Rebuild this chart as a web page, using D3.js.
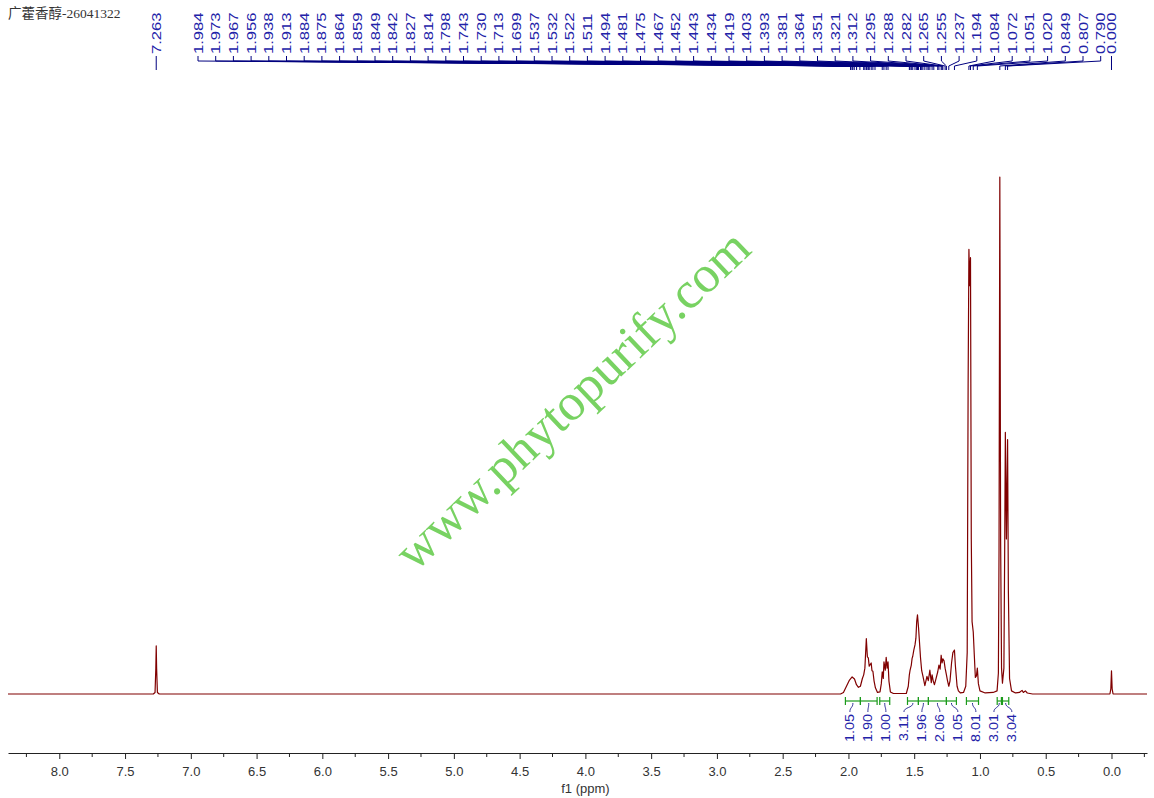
<!DOCTYPE html>
<html><head><meta charset="utf-8">
<script src="https://cdn.jsdelivr.net/npm/d3@7"></script>
<style>
html,body{margin:0;padding:0;background:#fff;}
svg{display:block;}
</style></head>
<body>
<svg id="chart" width="1154" height="798"></svg>
<script>
// ---------- DATA ----------
const title = "广藿香醇-26041322";
const watermark = "www.phytopurify.com";
const axisTitle = "f1 (ppm)";
const xDomain = [8.39, -0.27];
const majorTicks = [8.0,7.5,7.0,6.5,6.0,5.5,5.0,4.5,4.0,3.5,3.0,2.5,2.0,1.5,1.0,0.5,0.0];
const minorTicks = [8.25,7.75,7.25,6.75,6.25,5.75,5.25,4.75,4.25,3.75,3.25,2.75,2.25,1.75,1.25,0.75,0.25,-0.25];

// spectrum trace (ppm, relative intensity)
const specPpm = [8.39,7.285,7.272,7.266,7.263,7.260,7.254,7.240,2.060,2.038,2.015,1.992,1.972,1.954,1.939,1.924,1.909,1.894,1.884,1.875,1.864,1.856,1.849,1.842,1.827,1.821,1.814,1.805,1.795,1.779,1.760,1.750,1.743,1.735,1.730,1.720,1.713,1.706,1.699,1.692,1.681,1.658,1.560,1.545,1.537,1.532,1.522,1.516,1.511,1.503,1.494,1.487,1.481,1.475,1.467,1.460,1.452,1.443,1.434,1.419,1.403,1.393,1.381,1.370,1.364,1.355,1.346,1.336,1.321,1.312,1.303,1.295,1.288,1.282,1.273,1.265,1.255,1.247,1.237,1.228,1.216,1.206,1.194,1.187,1.174,1.164,1.148,1.125,1.108,1.097,1.090,1.084,1.078,1.072,1.066,1.060,1.051,1.043,1.035,1.027,1.020,1.012,1.000,0.960,0.900,0.870,0.860,0.855,0.849,0.843,0.836,0.829,0.818,0.812,0.807,0.799,0.790,0.784,0.775,0.760,0.730,0.700,0.680,0.670,0.655,0.640,0.600,0.012,0.005,0.000,-0.005,-0.012,-0.27];
const specInt = [0,0,0.3,5,9.3,5,0.3,0,0,0.3,1.5,2.7,3.3,2.9,1.8,1.3,1.5,3.0,3.7,5.0,10.7,7.2,7.0,5.4,6.0,4.5,4.4,2.5,1.2,0.3,0.4,2.0,4.3,3.0,6.2,4.6,7.1,5.0,6.2,2.5,0.4,0.1,0.1,1.5,3.7,4.5,5.6,6.9,7.3,8.5,9.5,10.8,14.0,15.3,12.8,10.1,7.0,4.5,3.5,1.6,3.4,2.6,4.6,2.2,3.7,2.5,1.8,2.8,4.3,5.6,4.8,7.5,6.0,6.8,6.4,5.0,3.7,2.6,1.5,2.5,6.0,8.0,8.5,5.5,1.5,0.6,0.2,0.3,1.5,8.0,60,86.0,79,84.4,30,14,12,7.5,3.2,3.5,5.0,2.0,0.6,0.2,0.3,0.6,4.0,28,100,30,5,2.1,5,28,50.6,30,49.2,20,3,0.6,0.2,0.3,0.7,0.3,0.6,0.2,0,0,1,4.5,1,0,0];

// peak picking labels
const peakSolo = ["7.263","0.000"];
const peakGroup = ["1.984","1.973","1.967","1.956","1.938","1.913","1.884","1.875","1.864","1.859","1.849","1.842","1.827","1.814","1.798","1.743","1.730","1.713","1.699","1.537","1.532","1.522","1.511","1.494","1.481","1.475","1.467","1.452","1.443","1.434","1.419","1.403","1.393","1.381","1.364","1.351","1.321","1.312","1.295","1.288","1.282","1.265","1.255","1.237","1.194","1.084","1.072","1.051","1.020","0.849","0.807","0.790"];

// integrals
const intFrom = [2.023,1.909,1.762,1.551,1.468,1.392,1.255,1.103,0.869,0.829];
const intTo   = [1.909,1.782,1.686,1.468,1.392,1.255,1.179,1.011,0.837,0.781];
const intVal  = ["1.05","1.90","1.00","3.11","1.96","2.06","1.05","8.01","3.01","3.04"];

// ---------- DRAW ----------
const svg = d3.select("#chart");
const x = d3.scaleLinear().domain(xDomain).range([8, 1147]);
const y = d3.scaleLinear().domain([0, 100]).range([694, 177]);

const navy = "#00007f", labelBlue = "#2222a8", green = "#1a9a1a";

// title
svg.append("text").attr("x", 8).attr("y", 18)
  .attr("font-family", "'Liberation Serif','Noto Sans CJK SC',serif")
  .attr("font-size", 13.5).attr("fill", "#333").text(title);

// watermark
svg.append("text")
  .attr("transform", "translate(584,412) rotate(-43.5)")
  .attr("text-anchor", "middle")
  .attr("font-family", "'Liberation Serif',serif")
  .attr("font-size", 52).attr("fill", "#78d262").text(watermark);

// spectrum
const pts = specPpm.map((p, i) => [p, specInt[i]]);
svg.append("path").datum(pts)
  .attr("d", d3.line().x(d => x(d[0])).y(d => y(d[1])))
  .attr("fill", "none").attr("stroke", "#800000").attr("stroke-width", 1.2)
  .attr("stroke-linejoin", "round");

// x axis
const axisY = 753;
const ax = svg.append("g").attr("transform", `translate(0,${axisY})`)
  .call(d3.axisBottom(x).tickValues(majorTicks).tickSize(6).tickSizeOuter(0).tickFormat(d3.format(".1f")));
ax.select(".domain").attr("stroke", "#222");
ax.selectAll(".tick line").attr("stroke", "#222");
ax.selectAll(".tick text").attr("font-family", "'Liberation Sans',Arial,sans-serif")
  .attr("font-size", 13).attr("fill", "#333").attr("dy", "1.05em");
svg.append("g").selectAll("line").data(minorTicks).join("line")
  .attr("x1", d => x(d)).attr("x2", d => x(d))
  .attr("y1", axisY).attr("y2", axisY + 4).attr("stroke", "#222");
svg.append("text").attr("x", x(4.0)).attr("y", 793).attr("text-anchor", "middle")
  .attr("font-family", "'Liberation Sans',Arial,sans-serif").attr("font-size", 13)
  .attr("fill", "#333").text(axisTitle);

// peak labels
const lblFont = "'Liberation Sans',Arial,sans-serif";
const gx = d3.scaleLinear().domain([0, peakGroup.length - 1]).range([198, 1100.7]);
const peaks = peakGroup.map((t, i) => ({t, lx: gx(i), px: x(+t)}))
  .concat(peakSolo.map(t => ({t, lx: x(+t), px: x(+t)})));
const pg = svg.append("g");
pg.selectAll("path").data(peaks).join("path")
  .attr("d", d => `M${d.lx},56 L${d.lx},61 L${d.px},66 L${d.px},70`)
  .attr("fill", "none").attr("stroke", navy).attr("stroke-width", 1);
pg.selectAll("text").data(peaks).join("text")
  .attr("transform", d => `translate(${d.lx + 4.5},54) rotate(-90) scale(1.33,1)`)
  .attr("font-family", lblFont).attr("font-size", 12.5).attr("fill", labelBlue)
  .text(d => d.t);

// integrals
const ints = intVal.map((v, i) => ({v, a: x(intFrom[i]), b: x(intTo[i])}));
ints.forEach(d => d.c = (d.a + d.b) / 2);
// spread labels so they keep a minimum spacing
const minGap = 18;
let groups = ints.map(d => ({items: [d], pos: d.c}));
let changed = true;
while (changed) {
  changed = false;
  for (let i = 0; i < groups.length - 1; i++) {
    const g1 = groups[i], g2 = groups[i + 1];
    const end1 = g1.pos + (g1.items.length - 1) / 2 * minGap;
    const start2 = g2.pos - (g2.items.length - 1) / 2 * minGap;
    if (start2 - end1 < minGap) {
      const items = g1.items.concat(g2.items);
      groups.splice(i, 2, {items, pos: d3.mean(items, e => e.c)});
      changed = true; break;
    }
  }
}
groups.forEach(g => g.items.forEach((d, k) => d.lx = g.pos + (k - (g.items.length - 1) / 2) * minGap));

const ig = svg.append("g");
ig.selectAll("line.bar").data(ints).join("line").attr("class", "bar")
  .attr("x1", d => d.a).attr("x2", d => d.b).attr("y1", 701).attr("y2", 701)
  .attr("stroke", green).attr("stroke-width", 1.2);
ig.selectAll("line.ta").data(ints).join("line").attr("class", "ta")
  .attr("x1", d => d.a).attr("x2", d => d.a).attr("y1", 697).attr("y2", 705)
  .attr("stroke", green).attr("stroke-width", 1.2);
ig.selectAll("line.tb").data(ints).join("line").attr("class", "tb")
  .attr("x1", d => d.b).attr("x2", d => d.b).attr("y1", 697).attr("y2", 705)
  .attr("stroke", green).attr("stroke-width", 1.2);
ig.selectAll("path").data(ints).join("path")
  .attr("d", d => `M${d.c},703 C${d.c},708 ${d.lx},707 ${d.lx},712`)
  .attr("fill", "none").attr("stroke", navy).attr("stroke-width", 0.8);
ig.selectAll("text").data(ints).join("text")
  .attr("transform", d => `translate(${d.lx + 4.5},714) rotate(-90) scale(1.2,1)`)
  .attr("text-anchor", "end")
  .attr("font-family", lblFont).attr("font-size", 12).attr("fill", labelBlue)
  .text(d => d.v);
</script>
</body></html>
